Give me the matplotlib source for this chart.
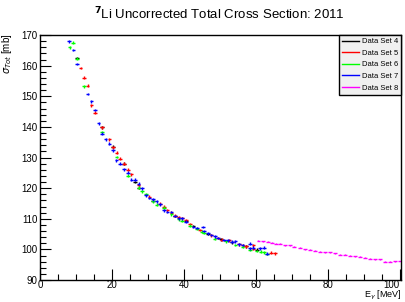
import matplotlib.pyplot as plt
from matplotlib.ticker import MultipleLocator

plt.rcParams['font.family'] = ['Liberation Sans', 'DejaVu Sans']

# Data Set 4 (black)
x4 = [10.3, 17.2, 20.3, 23.3, 26.4, 27.4, 31.4, 37.5, 40.6, 42.6, 46.6, 50.3, 53.3, 57.3, 60.3]
y4 = [162.5, 139.9, 133.5, 128.0, 122.0, 120.2, 115.8, 110.9, 109.3, 107.6, 105.0, 103.3, 102.3, 101.0, 99.9]

# Data Set 5 (red)
x5 = [11.3, 12.2, 13.2, 14.3, 15.3, 17.2, 19.3, 20.3, 21.3, 22.3, 23.3, 24.4, 25.4, 27.4, 30.4,
      33.4, 34.4, 35.4, 36.5, 37.5, 38.5, 39.5, 40.6, 41.6, 44.5, 47.6, 49.5, 50.6, 52.6, 55.3,
      56.3, 57.3, 59.3, 59.3, 64.2, 65.3]
y5 = [159.2, 156.0, 153.5, 147.1, 144.6, 139.9, 136.0, 133.3, 131.6, 129.6, 128.0, 126.0, 124.5, 121.0, 117.2,
      114.9, 113.9, 112.8, 112.0, 111.0, 110.6, 110.1, 109.5, 108.3, 106.3, 104.6, 103.7, 103.2, 102.9, 101.7,
      101.3, 101.0, 101.3, 100.1, 98.9, 98.7]

# Data Set 6 (green)
x6 = [8.2, 9.2, 10.3, 12.3, 17.2, 21.3, 24.4, 27.4, 28.4, 29.4, 31.4, 32.4, 34.4, 36.5, 38.5,
      39.5, 41.6, 43.6, 44.9, 45.6, 48.5, 51.6, 54.3, 56.3, 58.3, 60.2, 61.3, 62.2, 63.1]
y6 = [166.0, 167.5, 162.3, 153.2, 138.3, 130.2, 124.1, 120.1, 119.0, 118.0, 115.7, 114.6, 113.6, 111.5, 109.8,
      109.4, 107.7, 106.7, 105.8, 105.4, 103.5, 102.6, 101.4, 100.9, 99.9, 99.5, 99.3, 99.0, 98.5]

# Data Set 7 (blue)
x7 = [8.1, 9.3, 10.3, 13.2, 14.3, 15.2, 16.3, 17.2, 18.2, 19.3, 20.3, 21.2, 22.3, 23.3, 24.4,
      25.4, 26.4, 27.4, 28.4, 29.4, 30.4, 31.4, 32.4, 33.4, 34.4, 35.4, 36.5, 37.5, 38.5, 39.5,
      40.6, 42.6, 43.6, 45.3, 45.6, 46.6, 47.6, 48.6, 49.5, 51.2, 52.2, 53.3, 54.3, 55.3, 56.3,
      58.3, 58.3, 59.3, 61.1, 62.2, 63.1]
y7 = [168.0, 165.1, 160.5, 150.7, 148.3, 145.5, 141.2, 137.8, 136.0, 134.5, 132.4, 129.1, 128.0, 126.1, 125.0,
      122.8, 122.7, 121.4, 119.9, 117.6, 116.8, 116.3, 115.7, 114.7, 112.8, 112.2, 112.2, 110.9, 110.2, 110.2,
      109.1, 107.3, 107.0, 107.3, 106.0, 105.3, 104.7, 104.3, 103.7, 103.1, 103.0, 102.5, 102.6, 101.7, 101.4,
      101.8, 100.3, 100.6, 100.4, 100.6, 98.6]

# Data Set 8 (magenta)
x8 = [60.7, 62.0, 63.4, 64.4, 65.6, 66.7, 68.1, 69.4, 70.6, 72.2, 73.6, 75.0, 76.4, 77.8, 79.2,
      80.6, 81.9, 83.3, 84.7, 86.1, 87.5, 88.9, 90.3, 91.7, 93.1, 94.4, 95.8, 97.2, 98.6, 100.0]
y8 = [102.8, 102.6, 102.5, 102.1, 101.8, 101.8, 101.3, 101.3, 100.8, 100.5, 100.1, 99.9, 99.6, 99.3, 99.1,
      99.1, 98.8, 98.3, 98.2, 98.0, 97.8, 97.6, 97.2, 96.9, 96.8, 96.7, 96.0, 96.0, 96.1, 96.2]

x_ticks = [0, 20, 40, 60, 80, 100]

sets = [
    (x4, y4, 'black', 'Data Set 4'),
    (x5, y5, 'red', 'Data Set 5'),
    (x6, y6, '#00ff00', 'Data Set 6'),
    (x7, y7, 'blue', 'Data Set 7'),
    (x8, y8, 'magenta', 'Data Set 8'),
]

fig = plt.figure(figsize=(4.06, 3.02), dpi=100)
ax = fig.add_axes([40 / 406, 22 / 302, 361 / 406, 245 / 302])

for xs, ys, col, lab in sets:
    yerr = 0.15 if col == 'magenta' else 0.45
    ax.errorbar(xs, ys, xerr=0.5, yerr=yerr, fmt='none', ecolor=col, elinewidth=1.0)
    ax.plot([], [], color=col, lw=1.0, label=lab)

ax.set_xlim(0, 100.3)
ax.set_ylim(90, 170)
ax.set_xticks(x_ticks)
ax.set_xticklabels([str(v) for v in x_ticks])
ax.xaxis.set_minor_locator(MultipleLocator(5))
ax.yaxis.set_major_locator(MultipleLocator(10))
ax.yaxis.set_minor_locator(MultipleLocator(2))
ax.tick_params(which='both', direction='in', top=False, right=False,
               labelsize=7, colors='black', width=0.8)
ax.tick_params(axis='y', which='major', length=8, pad=2)
ax.tick_params(axis='y', which='minor', length=4)
ax.tick_params(axis='x', which='major', length=8, pad=0)
ax.tick_params(axis='x', which='minor', length=4)
for sp in ax.spines.values():
    sp.set_linewidth(1.0)

# keep the last x label inside the frame, like the original
ax.xaxis.get_major_ticks()[-1].label1.set_horizontalalignment('right')

fig.text(219 / 406, 1 - 14 / 302, r'$^{\mathbf{7}}$Li Uncorrected Total Cross Section: 2011',
         ha='center', va='center', fontsize=9.5)
fig.text(7 / 406, 1 - 34 / 302, r'$\sigma_{Tot}$ [mb]', rotation=90,
         ha='center', va='top', fontsize=7)
fig.text(402 / 406, 0.2 / 302, r'E$_{\gamma}$ [MeV]',
         ha='right', va='bottom', fontsize=6.5)

leg = ax.legend(loc='upper right', fontsize=5.5, frameon=True, fancybox=False,
                borderaxespad=0, handlelength=2.2, handletextpad=0.4,
                labelspacing=0.55, borderpad=0.4)
leg.get_frame().set_facecolor('#f0f0f0')
leg.get_frame().set_edgecolor('black')
leg.get_frame().set_linewidth(1.0)
leg.get_frame().set_alpha(1)

fig.savefig('out.png', dpi=100)
